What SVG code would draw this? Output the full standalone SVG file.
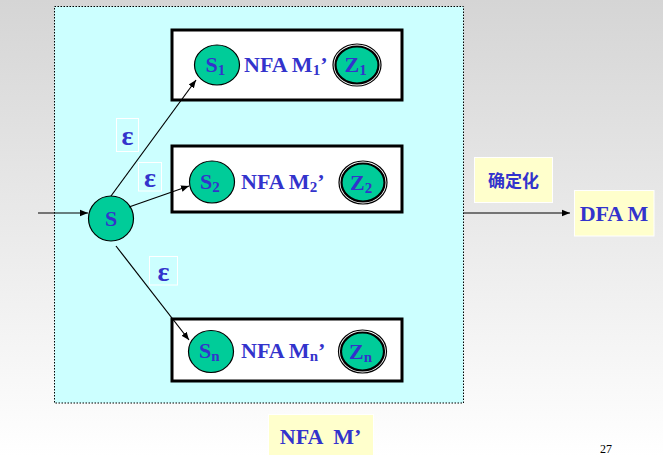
<svg xmlns="http://www.w3.org/2000/svg" width="663" height="457" viewBox="0 0 663 457">
<defs>
<linearGradient id="bg" x1="0" y1="0" x2="0" y2="1">
<stop offset="0" stop-color="#d5d5d5"/>
<stop offset="1" stop-color="#ffffff"/>
</linearGradient>
<marker id="arr" viewBox="0 0 10 10" refX="10" refY="5" markerWidth="8" markerHeight="8" markerUnits="userSpaceOnUse" orient="auto">
<path d="M0,1 L10,5 L0,9 z" fill="#000"/>
</marker>
<style>
.t{font-family:"Liberation Serif","Times New Roman",serif;font-weight:bold;fill:#3333cc;}
.st{fill:#00cc99;stroke:#000;stroke-width:1.2;}
.box{fill:#fff;stroke:#000;stroke-width:3;}
.eps{fill:none;stroke:#fff;stroke-width:1;}
.lab{fill:#ffffcc;stroke:#fff;stroke-width:1;}
.ln{stroke:#000;stroke-width:1.2;fill:none;marker-end:url(#arr);}
</style>
</defs>
<rect x="0" y="0" width="663" height="457" fill="url(#bg)"/>
<g id="nfa-frame">
<rect x="54.5" y="6.5" width="409" height="396.5" fill="#ccffff" stroke="#000" stroke-width="1" stroke-dasharray="1.5,1.5"/>
</g>
<g id="m1">
<rect class="box" x="172" y="30" width="230" height="70"/>
<ellipse class="st" cx="217" cy="65" rx="22.5" ry="20"/>
<text class="t" x="205.5" y="72" font-size="22">S<tspan font-size="15" dy="3">1</tspan></text>
<text class="t" x="244" y="72" font-size="22">NFA M<tspan font-size="15" dy="3">1</tspan><tspan dy="-3">’</tspan></text>
<ellipse cx="357" cy="65" rx="24" ry="21" fill="#fff" stroke="#000" stroke-width="1.2"/>
<ellipse cx="357" cy="65" rx="21.5" ry="18.5" fill="#00cc99" stroke="#000" stroke-width="2.2"/>
<text class="t" x="344.5" y="72" font-size="22">Z<tspan font-size="15" dy="3">1</tspan></text>
</g>
<g id="m2">
<rect class="box" x="172" y="146" width="230" height="66"/>
<ellipse class="st" cx="212" cy="182" rx="22.5" ry="21"/>
<text class="t" x="200" y="189" font-size="22">S<tspan font-size="15" dy="3">2</tspan></text>
<text class="t" x="241" y="189" font-size="22">NFA M<tspan font-size="15" dy="3">2</tspan><tspan dy="-3">’</tspan></text>
<ellipse cx="363" cy="182.5" rx="24" ry="21.5" fill="#fff" stroke="#000" stroke-width="1.2"/>
<ellipse cx="363" cy="182.5" rx="21.5" ry="19" fill="#00cc99" stroke="#000" stroke-width="2.2"/>
<text class="t" x="350" y="190" font-size="22">Z<tspan font-size="15" dy="3">2</tspan></text>
</g>
<g id="mn">
<rect class="box" x="172" y="319" width="230" height="62"/>
<ellipse class="st" cx="211" cy="351.5" rx="22.5" ry="21"/>
<text class="t" x="199" y="358" font-size="22">S<tspan font-size="15" dy="3">n</tspan></text>
<text class="t" x="241" y="358" font-size="22">NFA M<tspan font-size="15" dy="3">n</tspan><tspan dy="-3">’</tspan></text>
<ellipse cx="362.5" cy="351.5" rx="24" ry="21.5" fill="#fff" stroke="#000" stroke-width="1.2"/>
<ellipse cx="362.5" cy="351.5" rx="21.5" ry="19" fill="#00cc99" stroke="#000" stroke-width="2.2"/>
<text class="t" x="349" y="359" font-size="22">Z<tspan font-size="15" dy="3">n</tspan></text>
</g>
<g id="s">
<circle class="st" cx="111" cy="218.5" r="22.5"/>
<text class="t" x="111" y="226" font-size="22" text-anchor="middle">S</text>
</g>
<g id="connectors">
<line class="ln" x1="38" y1="213" x2="88" y2="213"/>
<line class="ln" x1="111" y1="196" x2="196" y2="80"/>
<line class="ln" x1="129" y1="207" x2="189" y2="186"/>
<line class="ln" x1="116" y1="246" x2="189" y2="340"/>
<line class="ln" x1="463.5" y1="213" x2="570" y2="213"/>
</g>
<g id="eps1">
<rect class="eps" x="116.5" y="118.5" width="22" height="33"/>
<text class="t" x="127.5" y="145" font-size="28" text-anchor="middle">ε</text>
</g>
<g id="eps2">
<rect class="eps" x="138.5" y="162.5" width="23" height="28.5"/>
<text class="t" x="150" y="187" font-size="28" text-anchor="middle">ε</text>
</g>
<g id="eps3">
<rect class="eps" x="149.5" y="256.5" width="28" height="28.5"/>
<text class="t" x="163.5" y="281" font-size="28" text-anchor="middle">ε</text>
</g>
<g id="determinize">
<rect class="lab" x="474.5" y="157.5" width="78" height="45"/>
<text x="513.5" y="187" font-size="17" text-anchor="middle" font-weight="bold" fill="#3333cc" font-family="'Noto Sans CJK SC','Noto Sans CJK JP',sans-serif">确定化</text>
</g>
<g id="dfa">
<rect class="lab" x="574.5" y="190.5" width="79.5" height="45.5"/>
<text class="t" x="614" y="221" font-size="22" text-anchor="middle">DFA M</text>
</g>
<g id="nfa-label">
<rect class="lab" x="268.5" y="414.5" width="105" height="41"/>
<text class="t" x="320.5" y="444" font-size="22" text-anchor="middle" xml:space="preserve">NFA  M’</text>
</g>
<text x="606" y="453" font-size="12" text-anchor="middle" font-family="'Liberation Serif',serif" fill="#000">27</text>
</svg>
